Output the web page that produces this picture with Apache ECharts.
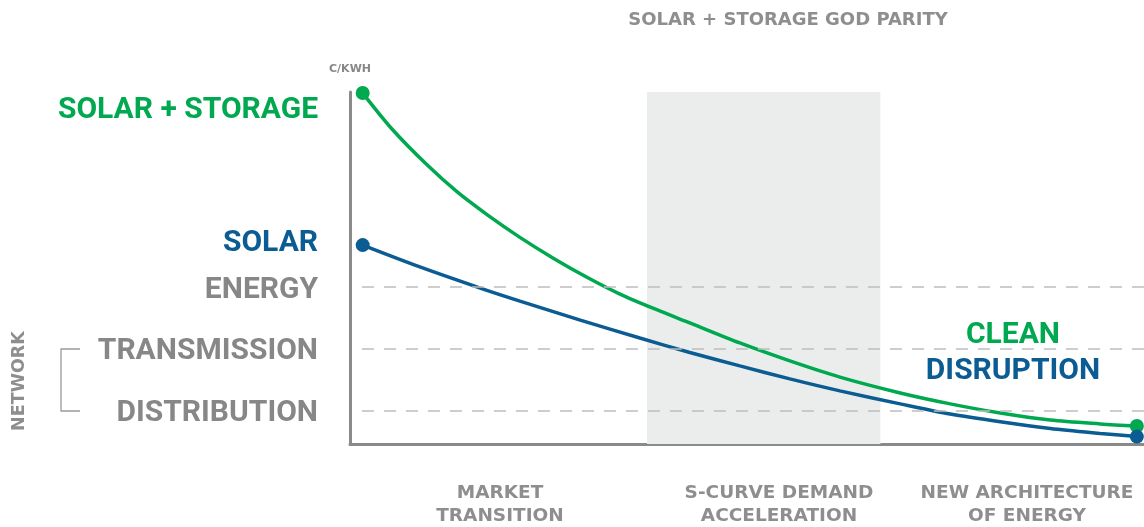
<!DOCTYPE html>
<html><head><meta charset="utf-8">
<script src="https://cdn.jsdelivr.net/npm/echarts@6/dist/echarts.min.js"></script>
<style>html,body{margin:0;padding:0;background:#fff}#c{width:1144px;height:527px}</style>
</head><body><div id="c"></div>
<script>
// x: time progression (0-100), y: cost in c/kWh (relative units 0-100)
const storageX = [1.6, 5.4, 9.7, 13.5, 17.3, 21.4, 25.6, 29.9, 34.0, 39.0, 42.8, 49.1, 55.4, 61.7, 69.3, 75.6, 81.9, 88.2, 94.5, 99.1];
const solarStorage = [99.7, 89.2, 79.3, 71.6, 65.1, 58.7, 52.8, 47.3, 42.6, 37.8, 34.4, 28.7, 23.6, 19.0, 14.5, 11.4, 8.8, 6.8, 5.7, 5.1];
const solarX = [1.6, 8.8, 16.4, 21.4, 29.0, 36.5, 42.8, 49.1, 55.4, 61.7, 69.3, 75.6, 81.9, 88.2, 94.5, 99.1];
const solar = [56.5, 50.3, 44.3, 40.6, 35.2, 30.1, 26.0, 22.2, 18.5, 15.1, 11.4, 8.5, 6.3, 4.4, 3.0, 2.1];
const costLevels = [44.6, 27.0, 9.4];        // energy, transmission, distribution
const costLabels = ['ENERGY', 'TRANSMISSION', 'DISTRIBUTION'];
const parityZone = [37.4, 66.8];
const phaseLabels = ['MARKET\nTRANSITION', 'S-CURVE DEMAND\nACCELERATION', 'NEW ARCHITECTURE\nOF ENERGY'];
const phaseCenters = [500, 779, 1027];

const GREEN = '#00a84f', BLUE = '#0b5c92', GRAY = '#878787', LGRAY = '#8e8e8e';
const chart = echarts.init(document.getElementById('c'));
const endSize = (n) => (v, p) => (p.dataIndex === 0 || p.dataIndex === n - 1) ? 14 : 0;

const gLeft = 350, gTop = 92, gBottom = 83;
const yPix = v => 444 - v * 3.52;

const graphics = [];
const bigFont = 'bold 30px Roboto';
const smallFont = 'bold 18.5px "DejaVu Sans"';
function txt(text, x, y, fill, font, align, extra) {
  graphics.push(Object.assign({type:'text', x:x, y:y, style:{text:text, fill:fill, font:font, align:align||'left', verticalAlign:'middle'}}, extra||{}));
}
txt('SOLAR + STORAGE', 318, 110, GREEN, bigFont, 'right');
txt('SOLAR', 318, 243, BLUE, bigFont, 'right');
costLabels.forEach((l, i) => txt(l, 318, yPix(costLevels[i]) + 3, GRAY, bigFont, 'right'));
txt('CLEAN', 1013, 335, GREEN, bigFont, 'center');
txt('DISRUPTION', 1013, 371, BLUE, bigFont, 'center');
txt('C/KWH', 350, 69, GRAY, 'bold 11px "DejaVu Sans"', 'center');
txt('SOLAR + STORAGE GOD PARITY', 788, 20, LGRAY, 'bold 18px "DejaVu Sans"', 'center');
phaseLabels.forEach((l, i) => {
  const parts = l.split('\n');
  txt(parts[0], phaseCenters[i], 493, LGRAY, smallFont, 'center');
  txt(parts[1], phaseCenters[i], 516, LGRAY, smallFont, 'center');
});
txt('NETWORK', 0, 0, LGRAY, 'bold 17.5px "DejaVu Sans"', 'center', {x:19, y:381, rotation: Math.PI/2});
graphics.push({type:'polyline', shape:{points:[[80,349],[61,349],[61,411],[80,411]]}, style:{stroke:'#9a9a9a', lineWidth:1.3, fill:null}});

chart.setOption({
  animation:false,
  grid:{left:gLeft, right:0, top:gTop, bottom:gBottom},
  xAxis:{type:'value', min:0, max:100, axisLine:{show:true, lineStyle:{color:'#8a8a8a', width:3}}, axisTick:{show:false}, axisLabel:{show:false}, splitLine:{show:false}},
  yAxis:{type:'value', min:0, max:100, axisLine:{show:true, lineStyle:{color:'#8a8a8a', width:3}}, axisTick:{show:false}, axisLabel:{show:false}, splitLine:{show:false}},
  series:[
    {type:'line', data:[], silent:true,
      markArea:{silent:true, itemStyle:{color:'#ebeded'}, data:[[{xAxis:parityZone[0], yAxis:0},{xAxis:parityZone[1], yAxis:100}]]},
      markLine:{silent:true, symbol:'none', label:{show:false}, lineStyle:{color:'#bdbdbd', type:[12,10], width:1.5},
        data: costLevels.map(v => [{coord:[1.5, v]},{coord:[100, v]}])}
    },
    {type:'line', smooth:0.3, data: storageX.map((x,i)=>[x, solarStorage[i]]), lineStyle:{color:GREEN, width:3.5}, itemStyle:{color:GREEN},
      symbol:'circle', showAllSymbol:true, symbolSize:endSize(storageX.length), z:3},
    {type:'line', smooth:0.3, data: solarX.map((x,i)=>[x, solar[i]]), lineStyle:{color:BLUE, width:3.5}, itemStyle:{color:BLUE},
      symbol:'circle', showAllSymbol:true, symbolSize:endSize(solarX.length), z:4}
  ],
  graphic: graphics
});
</script></body></html>
